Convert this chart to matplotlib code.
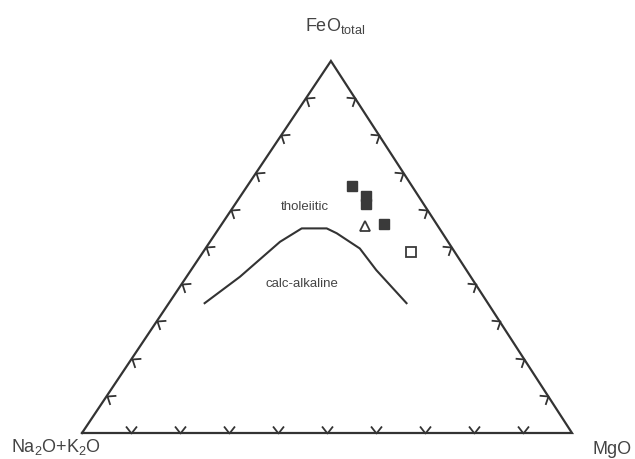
import numpy as np
import matplotlib
matplotlib.use("Agg")
import matplotlib.pyplot as plt
from matplotlib.path import Path

plt.rcParams['font.family'] = ['Liberation Sans', 'DejaVu Sans']
plt.rcParams['mathtext.fontset'] = 'custom'
plt.rcParams['mathtext.rm'] = 'Liberation Sans'
plt.rcParams['mathtext.default'] = 'regular'

# AFM compositions (wt% of Na2O+K2O, FeOt, MgO)
filled_a = [12.2, 10.7, 11.8, 10.8]
filled_f = [66.4, 63.7, 61.6, 56.2]
filled_m = [21.4, 25.6, 26.6, 33.0]

tri_a = [14.9]
tri_f = [55.6]
tri_m = [29.5]

open_a = [9.0]
open_f = [48.6]
open_m = [42.4]

# tholeiitic / calc-alkaline boundary
div_a = [57.8, 47.1, 34.3, 28.1, 23.0, 21.6, 18.9, 18.4, 16.6]
div_f = [34.9, 42.0, 51.4, 55.0, 55.0, 53.7, 49.6, 43.8, 34.9]
div_m = [7.3, 10.9, 14.3, 16.9, 22.0, 24.7, 31.5, 37.8, 48.5]

tick_fracs = [0.1, 0.2, 0.3, 0.4, 0.5, 0.6, 0.7, 0.8, 0.9]

H = np.sqrt(3) / 2
APEX_X = 0.508   # apex sits slightly right of the base midpoint
LINE = '#333333'


def tern(a, f, m):
    a, f, m = np.asarray(a, float), np.asarray(f, float), np.asarray(m, float)
    s = a + f + m
    return (m + f * APEX_X) / s, f / s * H


def tern_pt(a, f, m):
    x, y = tern(a, f, m)
    return float(x), float(y)


def chevron(angle_deg, half=38):
    # two arms leaving the vertex (origin) around the given direction
    t1 = np.radians(angle_deg + half)
    t2 = np.radians(angle_deg - half)
    verts = [(np.cos(t1), np.sin(t1)), (0, 0), (np.cos(t2), np.sin(t2))]
    scale = max(abs(v) for p in verts for v in p)
    return Path(verts), scale


W, Hpx = 635, 459
fig = plt.figure(figsize=(W / 100, Hpx / 100), dpi=100)
ax = fig.add_axes([0, 0, 1, 1])
sx = 490.0
sy = 372.0 / H
ax.set_xlim(-82 / sx, (W - 82) / sx)
ax.set_ylim(-26 / sy, (Hpx - 26) / sy)
ax.axis('off')

# triangle outline
vx, vy = tern([1, 0, 0, 1], [0, 1, 0, 0], [0, 0, 1, 0])
ax.plot(vx, vy, color=LINE, lw=1.6, solid_joinstyle='miter')

# inward-pointing chevron ticks on each side
arm_pt = 6.4
n = len(tick_fracs)
inv = [1 - t for t in tick_fracs]
sides = [
    # (positions along side, inward direction in screen degrees)
    (tern(inv, tick_fracs, [0] * n), -33.8),
    (tern([0] * n, tick_fracs, inv), 213.0),
    (tern(inv, [0] * n, tick_fracs), 90.0),
]
for (tx, ty), ang in sides:
    path, scale = chevron(ang)
    ax.plot(tx, ty, ls='none', marker=path, ms=2 * arm_pt * scale,
            mfc='none', mec=LINE, mew=1.3)

# boundary curve
cx, cy = tern(div_a, div_f, div_m)
ax.plot(cx, cy, color=LINE, lw=1.5)

# samples
px, py = tern(filled_a, filled_f, filled_m)
ax.plot(px, py, ls='none', marker='s', ms=7, mfc='#3a3a3a', mec='#3a3a3a')
px, py = tern(tri_a, tri_f, tri_m)
ax.plot(px, py, ls='none', marker='^', ms=7, mfc='white', mec='#3a3a3a', mew=1.3)
px, py = tern(open_a, open_f, open_m)
ax.plot(px, py, ls='none', marker='s', ms=7, mfc='white', mec='#3a3a3a', mew=1.3)

# field names
ax.text(*tern_pt(24.6, 60.8, 14.6), 'tholeiitic', fontsize=9.5, color='#444444',
        ha='center', va='center')
ax.text(*tern_pt(35.4, 40.0, 24.6), 'calc-alkaline', fontsize=9.5, color='#444444',
        ha='center', va='center')

# apex labels
ax.annotate('FeO$_{total}$', tern_pt(0, 1, 0), xytext=(-19, 25),
            textcoords='offset points', fontsize=13, color='#444444',
            ha='left', va='center')
ax.annotate('Na$_2$O+K$_2$O', tern_pt(1, 0, 0), xytext=(-19, -10),
            textcoords='offset points', fontsize=13, color='#444444',
            ha='center', va='center')
ax.annotate('MgO', tern_pt(0, 0, 1), xytext=(15, -12),
            textcoords='offset points', fontsize=13, color='#444444',
            ha='left', va='center')

fig.savefig('out.png', dpi=100)
